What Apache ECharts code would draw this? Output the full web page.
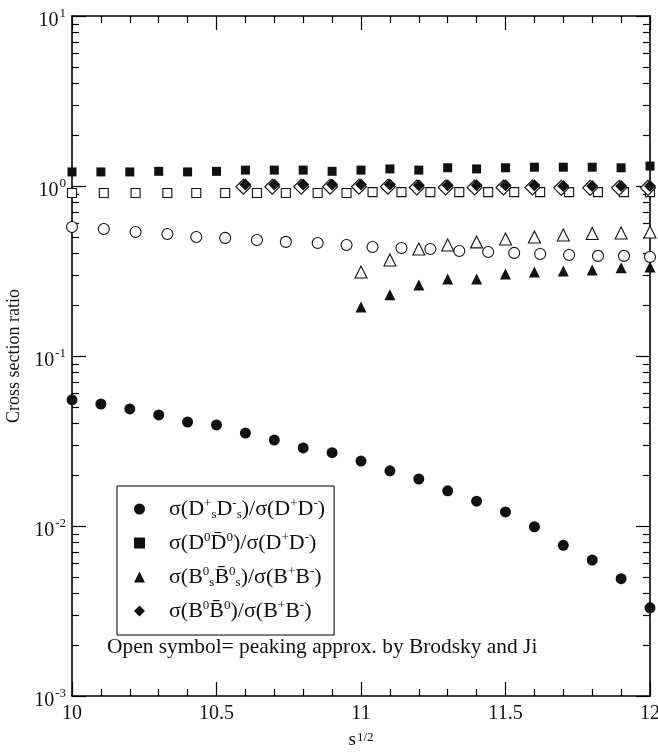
<!DOCTYPE html>
<html><head><meta charset="utf-8">
<script src="https://cdn.jsdelivr.net/npm/echarts@6/dist/echarts.min.js"></script>
<style>html,body{margin:0;padding:0;background:#fff}#c{width:658px;height:752px}</style>
</head><body><div id="c"></div>
<script>
// ---- data ----
const xGrid = [10.0,10.1,10.2,10.3,10.4,10.5,10.6,10.7,10.8,10.9,11.0,11.1,11.2,11.3,11.4,11.5,11.6,11.7,11.8,11.9,12.0];
const dsRatio = [0.0552,0.0522,0.0488,0.0450,0.0409,0.0393,0.0352,0.0320,0.0288,0.0270,0.0241,0.0211,0.0189,0.0161,0.0140,0.0121,0.0099,0.0077,0.0063,0.0049,0.0033];
const d0Ratio = [1.21,1.21,1.21,1.22,1.21,1.22,1.24,1.24,1.24,1.22,1.24,1.26,1.24,1.28,1.26,1.28,1.29,1.29,1.29,1.28,1.31];
const xOpen = [10.00,10.11,10.22,10.33,10.43,10.53,10.64,10.74,10.85,10.95,11.04,11.14,11.24,11.34,11.44,11.53,11.62,11.72,11.82,11.91,12.00];
const d0RatioOpen = [0.91,0.91,0.91,0.91,0.91,0.91,0.91,0.91,0.91,0.91,0.92,0.92,0.92,0.92,0.92,0.92,0.92,0.92,0.92,0.92,0.92];
const dsRatioOpen = [0.574,0.558,0.536,0.522,0.501,0.495,0.481,0.469,0.462,0.450,0.438,0.432,0.426,0.415,0.409,0.404,0.398,0.393,0.388,0.388,0.382];
const xTri = [11.0,11.1,11.2,11.3,11.4,11.5,11.6,11.7,11.8,11.9,12.0];
const bsRatio = [0.194,0.229,0.262,0.284,0.284,0.304,0.312,0.316,0.321,0.330,0.334];
const bsRatioOpen = [0.312,0.367,0.426,0.450,0.469,0.488,0.501,0.515,0.526,0.529,0.536];
const xDia = [10.6,10.7,10.8,10.9,11.0,11.1,11.2,11.3,11.4,11.5,11.6,11.7,11.8,11.9,12.0];
const b0Ratio = [1.02,1.02,1.02,1.02,1.02,1.02,1.01,1.01,1.01,1.01,1.01,1.0,1.0,1.0,1.0];
const xDiaOpen = [10.593,10.693,10.793,10.893,10.993,11.093,11.193,11.293,11.393,11.493,11.593,11.693,11.793,11.893,11.993];
const b0RatioOpen = [0.99,0.99,0.99,0.99,0.99,0.99,0.98,0.98,0.98,0.98,0.98,0.975,0.975,0.975,0.975];

const xTickLabels = ['10','10.5','11','11.5','12'];
const yTickExponents = ['-3','-2','-1','0','1'];
const yMinorTickValues = [0.002,0.003,0.004,0.005,0.006,0.007,0.008,0.009,0.02,0.03,0.04,0.05,0.06,0.07,0.08,0.09,0.2,0.3,0.4,0.5,0.6,0.7,0.8,0.9,2,3,4,5,6,7,8,9];

const legendNames = ['DsDs','D0D0','BsBs','B0B0'];
const legendLabels = [
  'σ(D{sup|+}{sub|s}D{sup|-}{sub|s})/σ(D{sup|+}D{sup|-})',
  'σ(D{sup|0}D\u0304{sup|0})/σ(D{sup|+}D{sup|-})',
  'σ(B{sup|0}{sub|s}B\u0304{sup|0}{sub|s})/σ(B{sup|+}B{sup|-})',
  'σ(B{sup|0}B\u0304{sup|0})/σ(B{sup|+}B{sup|-})'
];
const noteText = 'Open symbol= peaking approx. by Brodsky and Ji';
const xName = 's{sup|1/2}';
const yName = 'Cross section ratio';

// ---- chart ----
const FF = '"Liberation Serif","Times New Roman",serif';
const INK = '#111';
const zip = (xs, ys) => xs.map((x, i) => [x, ys[i]]);
const chart = echarts.init(document.getElementById('c'), null, {renderer: 'canvas'});

const lineStyle = {color: '#000', width: 1.6};
const tickStyle = {color: '#000', width: 1.2};

function logMajor(position, showLabel, withName) {
  return {
    type: 'log', logBase: 10, min: 0.001, max: 10, position: position,
    axisLine: {show: true, onZero: false, lineStyle: lineStyle},
    axisTick: {show: true, inside: true, length: 14, lineStyle: tickStyle},
    minorTick: {show: false},
    splitLine: {show: false},
    axisLabel: {
      show: showLabel, margin: 6, color: INK, fontFamily: FF,
      padding: [10, 0, 0, 0],
      formatter: v => '{b|10}{s|' + yTickExponents[Math.round(Math.log10(v)) + 3] + '}',
      rich: {
        b: {fontSize: 20, fontFamily: FF, color: INK, lineHeight: 28},
        s: {fontSize: 13, fontFamily: FF, color: INK, lineHeight: 13, verticalAlign: 'top', padding: [0, 0, 0, 1]}
      }
    },
    name: withName ? yName : '',
    nameLocation: 'middle', nameGap: 43,
    nameTextStyle: {fontFamily: FF, fontSize: 18, color: INK}
  };
}
function logMinor(position) {
  return {
    type: 'value', min: -3, max: 1, position: position,
    axisLine: {show: false, onZero: false},
    axisTick: {show: true, inside: true, length: 7, lineStyle: tickStyle,
      customValues: yMinorTickValues.map(v => Math.log10(v))},
    axisLabel: {show: false},
    splitLine: {show: false}
  };
}
function xAx(position, showLabel, withName) {
  return {
    type: 'value', min: 10, max: 12, interval: 0.5, position: position,
    axisLine: {show: true, onZero: false, lineStyle: lineStyle},
    axisTick: {show: true, inside: true, length: 14, lineStyle: tickStyle},
    minorTick: {show: true, splitNumber: 5, length: 7, lineStyle: tickStyle},
    splitLine: {show: false},
    axisLabel: {
      show: showLabel, margin: 8, color: INK, fontFamily: FF, fontSize: 20,
      formatter: v => xTickLabels[Math.round((v - 10) / 0.5)]
    },
    name: withName ? xName : '',
    nameLocation: 'middle', nameGap: 35,
    nameTextStyle: {fontFamily: FF, fontSize: 19, color: INK,
      rich: {sup: {fontSize: 13, fontFamily: FF, color: INK, verticalAlign: 'top', lineHeight: 13, padding: [0, 0, 12, 1]}}}
  };
}

function sc(name, xs, ys, symbol, size, z, open) {
  return {
    type: 'scatter', name: name, xAxisIndex: 0, yAxisIndex: 0,
    data: zip(xs, ys), symbol: symbol, symbolSize: size, z: z,
    itemStyle: open ? {color: '#fff', borderColor: INK, borderWidth: 1.1, opacity: 1} : {color: INK, opacity: 1},
    emphasis: {disabled: true}, silent: true
  };
}

chart.setOption({
  animation: false,
  backgroundColor: '#fff',
  grid: {left: 72, right: 8, top: 16, bottom: 56, containLabel: false, outerBoundsMode: 'none'},
  xAxis: [xAx('bottom', true, true), xAx('top', false, false)],
  yAxis: [logMajor('left', true, true), logMinor('left'), logMajor('right', false, false), logMinor('right')],
  legend: {
    data: legendNames, orient: 'vertical', left: 117, top: 486,
    itemWidth: 11, itemHeight: 11, itemGap: 10,
    padding: [11, 9, 12, 17],
    borderColor: '#000', borderWidth: 1, selectedMode: false,
    itemStyle: {opacity: 1},
    textStyle: {
      fontFamily: FF, fontSize: 22, color: INK, lineHeight: 24,
      rich: {
        sp: {width: 19, fontSize: 22, fontFamily: FF},
        sup: {fontSize: 13, fontFamily: FF, color: INK, verticalAlign: 'top', lineHeight: 13},
        sub: {fontSize: 13, fontFamily: FF, color: INK, verticalAlign: 'bottom', lineHeight: 13}
      }
    },
    formatter: name => '{sp| }' + legendLabels[legendNames.indexOf(name)]
  },
  graphic: [{
    type: 'text', left: 107, top: 637,
    style: {text: noteText, font: '21.4px ' + FF, fill: INK}
  }],
  series: [
    sc('openSq', xOpen, d0RatioOpen, 'rect', 9, 2, true),
    sc('openCirc', xOpen, dsRatioOpen, 'circle', 11, 2, true),
    sc('openTri', xTri, bsRatioOpen, 'triangle', 12, 2, true),
    sc('openDia', xDiaOpen, b0RatioOpen, 'diamond', 15, 2, true),
    sc('DsDs', xGrid, dsRatio, 'circle', 11, 3, false),
    sc('D0D0', xGrid, d0Ratio, 'rect', 9, 3, false),
    sc('BsBs', xTri, bsRatio, 'triangle', 11, 3, false),
    sc('B0B0', xDia, b0Ratio, 'diamond', 12, 3, false)
  ]
});
</script></body></html>
